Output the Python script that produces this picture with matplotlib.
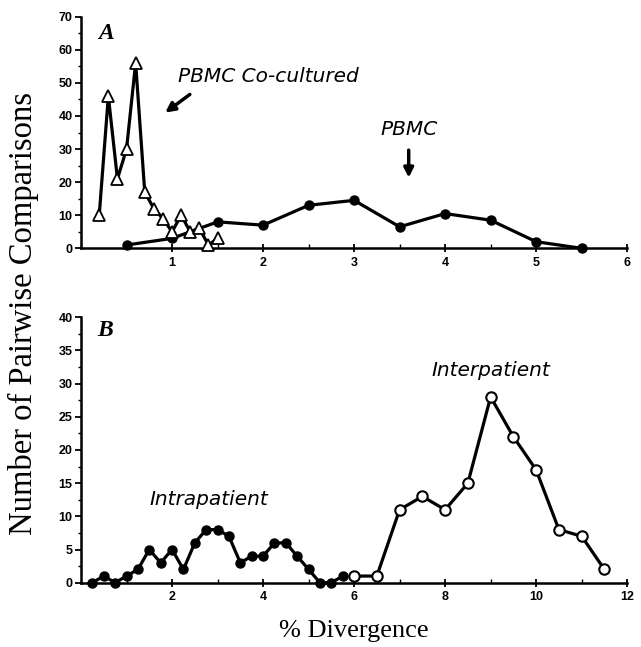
import numpy as np
import matplotlib
matplotlib.use('Agg')
import matplotlib.pyplot as plt
from matplotlib.ticker import MultipleLocator

# Panel A: PBMC co-cultured (open triangles) and PBMC (filled dots)
cocult_x = [0.2, 0.3, 0.4, 0.5, 0.6, 0.7, 0.8, 0.9, 1.0, 1.1, 1.2, 1.3, 1.4, 1.5]
cocult_y = [10, 46, 21, 30, 56, 17, 12, 9, 5, 10, 5, 6, 1, 3]
pbmc_x = [0.5, 1.0, 1.5, 2.0, 2.5, 3.0, 3.5, 4.0, 4.5, 5.0, 5.5]
pbmc_y = [1, 3, 8, 7, 13, 14.5, 6.5, 10.5, 8.5, 2, 0]

# Panel B: intrapatient (filled) and interpatient (open circles)
intra_x = [0.25, 0.5, 0.75, 1.0, 1.25, 1.5, 1.75, 2.0, 2.25, 2.5, 2.75, 3.0,
           3.25, 3.5, 3.75, 4.0, 4.25, 4.5, 4.75, 5.0, 5.25, 5.5, 5.75]
intra_y = [0, 1, 0, 1, 2, 5, 3, 5, 2, 6, 8, 8, 7, 3, 4, 4, 6, 6, 4, 2, 0, 0, 1]
inter_x = [6.0, 6.5, 7.0, 7.5, 8.0, 8.5, 9.0, 9.5, 10.0, 10.5, 11.0, 11.5]
inter_y = [1, 1, 11, 13, 11, 15, 28, 22, 17, 8, 7, 2]

tick_font = dict(family='Liberation Sans', weight='bold', size=9)
note_font = dict(family='DejaVu Sans', style='oblique', size=14.5)
serif = 'Liberation Serif'

fig = plt.figure(figsize=(6.41, 6.47), dpi=100)
axA = fig.add_axes([0.1264, 0.6162, 0.852, 0.358])
axB = fig.add_axes([0.1264, 0.0994, 0.852, 0.4102])


def style_axes(ax, xmaj, xmin, ymaj, ymin):
    for s in ['top', 'right']:
        ax.spines[s].set_visible(False)
    for s in ['left', 'bottom']:
        ax.spines[s].set_linewidth(1.8)
    ax.xaxis.set_major_locator(MultipleLocator(xmaj))
    ax.xaxis.set_minor_locator(MultipleLocator(xmin))
    ax.yaxis.set_major_locator(MultipleLocator(ymaj))
    ax.yaxis.set_minor_locator(MultipleLocator(ymin))
    ax.tick_params(axis='x', which='major', direction='inout', length=6, width=1.3, pad=3)
    ax.tick_params(axis='x', which='minor', direction='in', length=3, width=1.0)
    ax.tick_params(axis='y', which='major', direction='out', length=4, width=1.3, pad=2)
    ax.tick_params(axis='y', which='minor', direction='out', length=2.5, width=1.0)


# --- Panel A ---
axA.plot(pbmc_x, pbmc_y, '-o', color='black', lw=2.3, ms=6.5, clip_on=False, zorder=3)
axA.plot(cocult_x, cocult_y, '-^', color='black', lw=2.3, ms=8.5,
         mfc='white', mec='black', mew=1.3, clip_on=False, zorder=4)
axA.set_xlim(0, 6)
axA.set_ylim(0, 70)
style_axes(axA, 1, 0.5, 10, 5)
axA.set_xticks([1, 2, 3, 4, 5, 6])

axA.text(0.27, 65, 'A', fontfamily=serif, style='italic', weight='bold', fontsize=17,
         ha='center', va='center')
axA.text(1.06, 52, 'PBMC Co-cultured', ha='left', va='center', **note_font)
axA.annotate('', xy=(0.9, 40.5), xytext=(1.22, 47),
             arrowprops=dict(arrowstyle='-|>', lw=2.5, color='black', mutation_scale=14))
axA.text(3.6, 36, 'PBMC', ha='center', va='center', **note_font)
axA.annotate('', xy=(3.6, 20.5), xytext=(3.6, 30.5),
             arrowprops=dict(arrowstyle='-|>', lw=2.5, color='black', mutation_scale=14))

# --- Panel B ---
axB.plot(intra_x, intra_y, '-o', color='black', lw=2.3, ms=6.5, clip_on=False, zorder=3)
axB.plot(inter_x, inter_y, '-o', color='black', lw=2.3, ms=7.5,
         mfc='white', mec='black', mew=1.5, clip_on=False, zorder=4)
axB.set_xlim(0, 12)
axB.set_ylim(0, 40)
style_axes(axB, 2, 1, 5, 2.5)
axB.set_xticks([2, 4, 6, 8, 10, 12])

axB.text(0.52, 38, 'B', fontfamily=serif, style='italic', weight='bold', fontsize=17,
         ha='center', va='center')
axB.text(2.8, 12.5, 'Intrapatient', ha='center', va='center', **note_font)
axB.text(9.0, 32, 'Interpatient', ha='center', va='center', **note_font)

for lab in axA.get_xticklabels() + axA.get_yticklabels() + axB.get_xticklabels() + axB.get_yticklabels():
    lab.set_fontfamily(tick_font['family'])
    lab.set_fontweight(tick_font['weight'])
    lab.set_fontsize(tick_font['size'])

fig.text(0.036, 0.515, 'Number of Pairwise Comparisons', rotation=90, fontfamily=serif,
         fontsize=23.5, ha='center', va='center')
fig.text(0.552, 0.025, '% Divergence', fontfamily=serif, fontsize=19, ha='center', va='center')

fig.savefig('out.png', dpi=100)
